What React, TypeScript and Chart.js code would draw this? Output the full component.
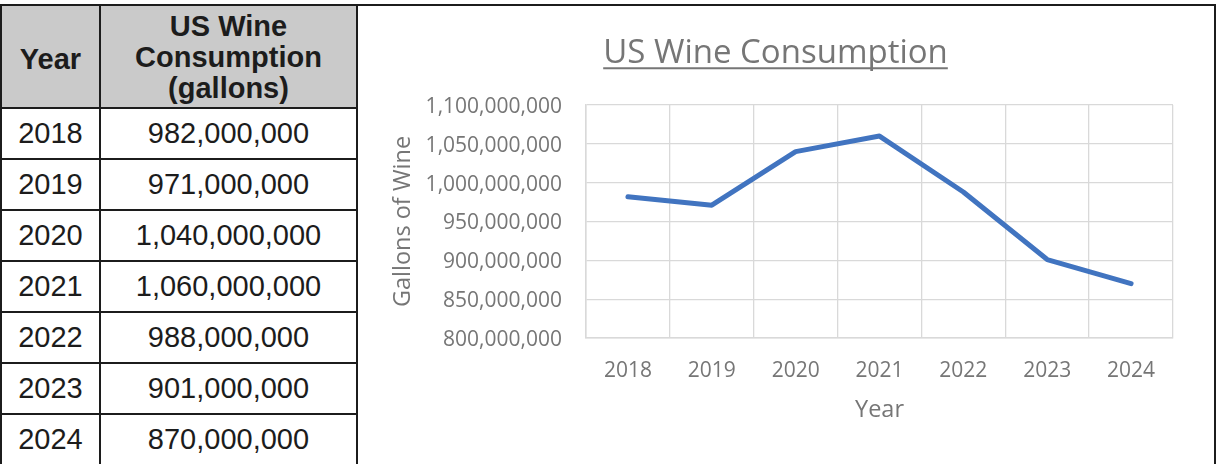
import React, { useEffect, useRef } from "react";
import { Chart, registerables } from "chart.js";

Chart.register(...registerables);

// ---- data ----
const years: string[] = ["2018", "2019", "2020", "2021", "2022", "2023", "2024"];
const consumption: number[] = [982000000, 971000000, 1040000000, 1060000000, 988000000, 901000000, 870000000];
const tableValueLabels: string[] = ["982,000,000", "971,000,000", "1,040,000,000", "1,060,000,000", "988,000,000", "901,000,000", "870,000,000"];
const headerYear = "Year";
const headerValueLines: string[] = ["US Wine", "Consumption", "(gallons)"];
const chartTitle = "US Wine Consumption";
const xAxisTitle = "Year";
const yAxisTitle = "Gallons of Wine";
const yMin = 800000000;
const yMax = 1100000000;
const yStep = 50000000;

// ---- styles ----
const GRAY_TEXT = "#767676";
const GRID = "#d9d9d9";
const LINE = "#4174c0";
const CHART_FONT = "'Open Sans', 'DejaVu Sans', sans-serif";
const TITLE_SIZE = 33;
const TITLE_PAD_TOP = 27;
const TITLE_PAD_BOTTOM = 31.4;
const AXIS_TITLE_SIZE = 23.5;

const underlinePlugin = {
  id: "titleUnderline",
  afterDraw(chart: any) {
    const tb = chart.titleBlock;
    if (!tb) return;
    const ctx = chart.ctx;
    ctx.save();
    ctx.font = `normal ${TITLE_SIZE}px ${CHART_FONT}`;
    const w = ctx.measureText(chartTitle).width;
    const cx = (tb.left + tb.right) / 2;
    const cy = tb.top + TITLE_PAD_TOP + (TITLE_SIZE * 1.2) / 2;
    ctx.strokeStyle = GRAY_TEXT;
    ctx.lineWidth = 2;
    ctx.beginPath();
    ctx.moveTo(cx - w / 2, cy + 14.5);
    ctx.lineTo(cx + w / 2, cy + 14.5);
    ctx.stroke();
    ctx.restore();
  },
};

function WineChart() {
  const ref = useRef<HTMLCanvasElement | null>(null);
  useEffect(() => {
    if (!ref.current) return;
    const chart = new Chart(ref.current, {
      type: "line",
      data: {
        labels: years,
        datasets: [
          {
            data: consumption,
            borderColor: LINE,
            backgroundColor: LINE,
            borderWidth: 5,
            borderCapStyle: "round",
            borderJoinStyle: "round",
            pointRadius: 0,
            tension: 0,
          },
        ],
      },
      options: {
        animation: false,
        responsive: false,
        devicePixelRatio: 1,
        layout: { padding: { left: 20, right: 20, top: 0, bottom: 0 } },
        plugins: {
          legend: { display: false },
          tooltip: { enabled: false },
          title: {
            display: true,
            text: chartTitle,
            color: GRAY_TEXT,
            font: { family: CHART_FONT, size: TITLE_SIZE, weight: "normal" },
            padding: { top: TITLE_PAD_TOP, bottom: TITLE_PAD_BOTTOM },
          },
        },
        scales: {
          x: {
            type: "category",
            offset: true,
            grid: { offset: true, color: GRID, lineWidth: 1.3, drawTicks: false },
            border: { color: GRID, width: 1.5 },
            ticks: { color: GRAY_TEXT, font: { family: CHART_FONT, size: 21 }, padding: 20 },
            title: {
              display: true,
              text: xAxisTitle,
              color: GRAY_TEXT,
              font: { family: CHART_FONT, size: AXIS_TITLE_SIZE },
              padding: { top: 0, bottom: 40 },
            },
            afterFit: (s: any) => {
              s.height = 126;
            },
          },
          y: {
            min: yMin,
            max: yMax,
            grid: { color: GRID, lineWidth: 1.3, drawTicks: false },
            border: { color: GRID, width: 1.5 },
            ticks: {
              stepSize: yStep,
              color: GRAY_TEXT,
              font: { family: CHART_FONT, size: 21 },
              padding: 24,
              labelOffset: 2,
              callback: (v: any) => Number(v).toLocaleString("en-US"),
            },
            title: {
              display: true,
              text: yAxisTitle,
              color: GRAY_TEXT,
              font: { family: CHART_FONT, size: AXIS_TITLE_SIZE },
              padding: { top: 11, bottom: 0 },
            },
            afterFit: (s: any) => {
              s.width = 208;
            },
          },
        },
      },
      plugins: [underlinePlugin],
    } as any);
    return () => chart.destroy();
  }, []);
  return (
    <canvas
      ref={ref}
      width={835}
      height={457}
      style={{ position: "absolute", left: 358, top: 7, width: 835, height: 457 }}
    />
  );
}

const BORDER = "2px solid #1c1c1c";

function DataTable() {
  const cellBase: React.CSSProperties = {
    boxSizing: "border-box",
    borderRight: BORDER,
    borderBottom: BORDER,
    display: "flex",
    alignItems: "center",
    justifyContent: "center",
    textAlign: "center",
    color: "#1c1c1c",
    whiteSpace: "nowrap",
  };
  return (
    <div
      style={{
        position: "absolute",
        left: 0,
        top: 4,
        boxSizing: "border-box",
        borderLeft: BORDER,
        borderTop: BORDER,
        display: "grid",
        gridTemplateColumns: "99px 257px",
        gridTemplateRows: "103px repeat(7, 51px)",
        fontFamily: "'Liberation Sans', Arial, sans-serif",
      }}
    >
      <div style={{ ...cellBase, background: "#cacaca", fontWeight: "bold", fontSize: 29, paddingTop: 6 }}>{headerYear}</div>
      <div style={{ ...cellBase, background: "#cacaca", fontWeight: "bold", fontSize: 29, lineHeight: "31px", flexDirection: "column", paddingTop: 2 }}>
        {headerValueLines.map((l) => (
          <div key={l}>{l}</div>
        ))}
      </div>
      {years.map((y, i) => (
        <React.Fragment key={y}>
          <div style={{ ...cellBase, fontSize: 29 }}>{y}</div>
          <div style={{ ...cellBase, fontSize: 29 }}>{tableValueLabels[i]}</div>
        </React.Fragment>
      ))}
    </div>
  );
}

export default function App() {
  return (
    <div
      style={{
        position: "absolute",
        left: 0,
        top: 0,
        width: 1217,
        height: 464,
        overflow: "hidden",
        background: "#ffffff",
      }}
    >
      <DataTable />
      <div
        style={{
          position: "absolute",
          left: 356,
          top: 4,
          width: 860,
          height: 470,
          boxSizing: "border-box",
          borderTop: BORDER,
          borderLeft: BORDER,
          borderRight: BORDER,
        }}
      />
      <WineChart />
    </div>
  );
}
